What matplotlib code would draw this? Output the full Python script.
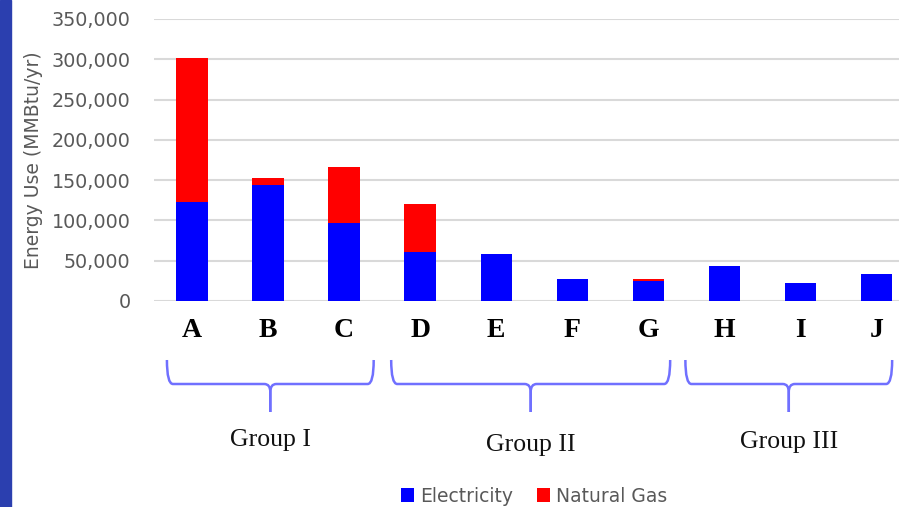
import matplotlib.pyplot as plt
import matplotlib.transforms as mtransforms
from matplotlib.path import Path
from matplotlib.patches import PathPatch, Rectangle
import numpy as np

buildings = ["A", "B", "C", "D", "E", "F", "G", "H", "I", "J"]
electricity = [123000, 143500, 97000, 60500, 58000, 27000, 25000, 43000, 22000, 34000]
natural_gas = [179000, 9000, 69000, 60500, 0, 0, 2000, 0, 0, 0]
group_names = ["Group I", "Group II", "Group III"]

# brace extents in category units (left end, right end)
brace_spans = [(-0.33, 2.39), (2.62, 6.29), (6.49, 9.21)]

W, H = 899, 507
fig = plt.figure(figsize=(W / 100, H / 100), dpi=100)
ax = fig.add_axes([154 / W, (H - 301) / H, 1 - 154 / W, 282 / H])

# dark band down the left edge
fig.patches.append(Rectangle((0, 0), 11 / W, 1, transform=fig.transFigure,
                             color="#2b3faf", zorder=0))

x = np.arange(len(buildings))
ax.bar(x, electricity, width=0.41, color="#0000ff", label="Electricity", zorder=3)
ax.bar(x, natural_gas, width=0.41, bottom=electricity, color="#ff0000",
       label="Natural Gas", zorder=3)

ax.set_ylim(0, 350000)
ax.set_xlim(-0.5, 9.3)
ax.set_yticks(np.arange(0, 350001, 50000))
ax.yaxis.set_major_formatter(plt.FuncFormatter(lambda v, p: f"{int(v):,}"))
ax.grid(axis="y", color="#d9d9d9", linewidth=1.5, zorder=0)
for s in ax.spines.values():
    s.set_visible(False)
ax.tick_params(axis="y", length=0, pad=17, labelsize=13.8, labelcolor="#595959")
ax.set_xticks(x)
ax.set_xticklabels(buildings, fontfamily="Liberation Serif", fontweight="bold",
                   fontsize=20, color="black")
ax.tick_params(axis="x", length=0, pad=12.5)
ax.set_ylabel("Energy Use (MMBtu/yr)", fontsize=13.5, color="#595959")
ax.yaxis.set_label_coords(-0.149, 0.5)

# curly braces under each group of buildings
trans = mtransforms.blended_transform_factory(ax.transData, fig.transFigure)
yf = lambda p: (H - p) / H
top, bar, tip = yf(360), yf(384), yf(412)
dx = 0.08
label_y = [440, 445, 442]
for name, (x0, x1), ly in zip(group_names, brace_spans, label_y):
    xm = (x0 + x1) / 2
    for xe, sgn in ((x0, 1), (x1, -1)):
        verts = [(xe, top), (xe, bar), (xe + sgn * dx, bar),
                 (xm - sgn * dx, bar), (xm, bar), (xm, yf(392)), (xm, tip)]
        codes = [Path.MOVETO, Path.CURVE3, Path.CURVE3,
                 Path.LINETO, Path.CURVE3, Path.CURVE3, Path.LINETO]
        ax.add_patch(PathPatch(Path(verts, codes), transform=trans, fill=False,
                               edgecolor="#7070ff", linewidth=1.8, clip_on=False))
    ax.text(xm, yf(ly), name, transform=trans, ha="center", va="center",
            fontfamily="Liberation Serif", fontsize=18.5, color="#111111")

fig.legend(loc="center", bbox_to_anchor=(0.594, yf(496)), ncol=2, frameon=False,
           fontsize=13.5, labelcolor="#595959", handlelength=0.7, handleheight=0.7,
           handletextpad=0.3, columnspacing=1.3)

fig.savefig("out.png", dpi=100)
